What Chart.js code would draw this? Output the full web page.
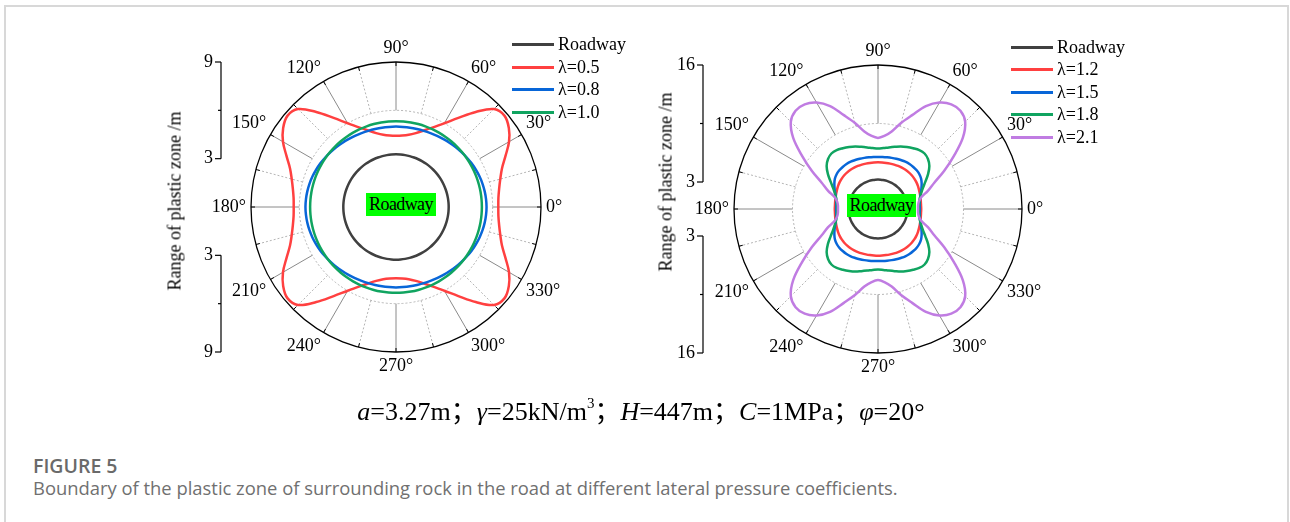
<!DOCTYPE html>
<html lang="zh-CN">
<head>
<meta charset="utf-8">
<script src="https://cdn.jsdelivr.net/npm/chart.js@4.4.1/dist/chart.umd.min.js"></script>
<style>
  html, body { margin: 0; padding: 0; background: #fff; }
  body { width: 1290px; height: 522px; position: relative; overflow: hidden; font-family: "Liberation Serif", "Times New Roman", serif; color: #000; }
  .card { position: absolute; left: 4px; top: 5px; width: 1285px; height: 600px; border: 2px solid #d8d8d8; box-sizing: border-box; }
  canvas { position: absolute; }
  .legend-row { position: absolute; height: 22px; display: flex; align-items: center; font-size: 18px; white-space: nowrap; }
  .legend-row .swatch { display: inline-block; width: 42px; height: 3px; margin-right: 4px; }
  .roadway { position: absolute; background: #00ff00; font-size: 18px; letter-spacing: -0.6px; line-height: 23px; height: 23px; text-align: center; }
  .axis-title { position: absolute; font-size: 18px; white-space: nowrap; transform: translate(-50%, -50%) rotate(-90deg); }
  .formula { position: absolute; left: 0; width: 1282px; top: 395px; text-align: center; font-family: "Liberation Serif", "Noto Sans CJK SC", serif; font-size: 26px; line-height: 34px; white-space: nowrap; }
  .formula sup { font-size: 15px; vertical-align: 12px; line-height: 0; }
  .fig-no { position: absolute; left: 33px; top: 452px; font-family: "Open Sans", "Noto Sans", sans-serif; font-weight: 600; font-size: 19.5px; color: #6a6a6a; }
  .fig-text { position: absolute; left: 33px; top: 475px; font-family: "Open Sans", "Noto Sans", sans-serif; font-size: 18.4px; color: #707070; white-space: nowrap; }
</style>
</head>
<body>
<div class="card"></div>

<canvas id="leftChart" width="420" height="380" style="left:180px; top:20px;"></canvas>
<canvas id="rightChart" width="420" height="380" style="left:660px; top:20px;"></canvas>

<div class="axis-title" style="left:175px; top:201px;">Range of plastic zone /m</div>
<div class="axis-title" style="left:666px; top:182px;">Range of plastic zone /m</div>

<div class="roadway" style="left:366px; top:193px; width:70px;">Roadway</div>
<div class="roadway" style="left:847px; top:194px; width:69px;">Roadway</div>

<div id="leftLegend"></div>
<div id="rightLegend"></div>

<div class="formula"><i>a</i>=3.27m；<i>γ</i>=25kN/m<sup>3</sup>；<i>H</i>=447m；<i>C</i>=1MPa；<i>φ</i>=20°</div>
<div class="fig-no">FIGURE 5</div>
<div class="fig-text">Boundary of the plastic zone of surrounding rock in the road at different lateral pressure coefficients.</div>

<script>
// polar angle categories, 0°..355° counter-clockwise
const angles = Array.from({ length: 72 }, (_, k) => k * 5);
const angleTicks = [0, 30, 60, 90, 120, 150, 180, 210, 240, 270, 300, 330];

// roadway radius a (m) and the λ=1.0 circle
const roadwayRadius = 3.27;
const lam10Radius = 5.33;

// plastic zone radius (m) at each angle, left plot
const lam05 = [6.35, 6.38, 6.5, 6.7, 7.0, 7.5, 8.1, 8.55, 8.8, 8.6, 7.7, 6.75, 6.0, 5.45, 5.05, 4.75, 4.55, 4.45, 4.42,
  4.45, 4.55, 4.75, 5.05, 5.45, 6.0, 6.75, 7.7, 8.6, 8.8, 8.55, 8.1, 7.5, 7.0, 6.7, 6.5, 6.38, 6.35,
  6.38, 6.5, 6.7, 7.0, 7.5, 8.1, 8.55, 8.8, 8.6, 7.7, 6.75, 6.0, 5.45, 5.05, 4.75, 4.55, 4.45, 4.42,
  4.45, 4.55, 4.75, 5.05, 5.45, 6.0, 6.75, 7.7, 8.6, 8.8, 8.55, 8.1, 7.5, 7.0, 6.7, 6.5, 6.38];
const lam08 = [5.62, 5.61, 5.59, 5.56, 5.52, 5.47, 5.42, 5.36, 5.3, 5.25, 5.19, 5.14, 5.1, 5.06, 5.03, 5.01, 5.0, 4.99, 4.99,
  4.99, 5.0, 5.01, 5.03, 5.06, 5.1, 5.14, 5.19, 5.25, 5.3, 5.36, 5.42, 5.47, 5.52, 5.56, 5.59, 5.61, 5.62,
  5.61, 5.59, 5.56, 5.52, 5.47, 5.42, 5.36, 5.3, 5.25, 5.19, 5.14, 5.1, 5.06, 5.03, 5.01, 5.0, 4.99, 4.99,
  4.99, 5.0, 5.01, 5.03, 5.06, 5.1, 5.14, 5.19, 5.25, 5.3, 5.36, 5.42, 5.47, 5.52, 5.56, 5.59, 5.61];

// right plot
const lam12 = [4.8, 4.8, 4.83, 4.88, 4.95, 5.03, 5.12, 5.2, 5.26, 5.3, 5.32, 5.32, 5.3, 5.28, 5.25, 5.22, 5.2, 5.19, 5.19,
  5.19, 5.2, 5.22, 5.25, 5.28, 5.3, 5.32, 5.32, 5.3, 5.26, 5.2, 5.12, 5.03, 4.95, 4.88, 4.83, 4.8, 4.8,
  4.8, 4.83, 4.88, 4.95, 5.03, 5.12, 5.2, 5.26, 5.3, 5.32, 5.32, 5.3, 5.28, 5.25, 5.22, 5.2, 5.19, 5.19,
  5.19, 5.2, 5.22, 5.25, 5.28, 5.3, 5.32, 5.32, 5.3, 5.26, 5.2, 5.12, 5.03, 4.95, 4.88, 4.83, 4.8];
const lam15 = [4.65, 4.66, 4.72, 4.85, 5.05, 5.32, 5.6, 5.85, 6.0, 6.08, 6.1, 6.1, 6.07, 6.0, 5.94, 5.88, 5.83, 5.8, 5.79,
  5.8, 5.83, 5.88, 5.94, 6.0, 6.07, 6.1, 6.1, 6.08, 6.0, 5.85, 5.6, 5.32, 5.05, 4.85, 4.72, 4.66, 4.65,
  4.66, 4.72, 4.85, 5.05, 5.32, 5.6, 5.85, 6.0, 6.08, 6.1, 6.1, 6.07, 6.0, 5.94, 5.88, 5.83, 5.8, 5.79,
  5.8, 5.83, 5.88, 5.94, 6.0, 6.07, 6.1, 6.1, 6.08, 6.0, 5.85, 5.6, 5.32, 5.05, 4.85, 4.72, 4.66];
const lam18 = [4.55, 4.58, 4.67, 4.82, 5.1, 5.5, 6.08, 6.8, 7.45, 7.85, 8.05, 8.0, 7.8, 7.6, 7.4, 7.15, 6.95, 6.8, 6.72,
  6.8, 6.95, 7.15, 7.4, 7.6, 7.8, 8.0, 8.05, 7.85, 7.45, 6.8, 6.08, 5.5, 5.1, 4.82, 4.67, 4.58, 4.55,
  4.58, 4.67, 4.82, 5.1, 5.5, 6.08, 6.8, 7.45, 7.85, 8.05, 8.0, 7.8, 7.6, 7.4, 7.15, 6.95, 6.8, 6.72,
  6.8, 6.95, 7.15, 7.4, 7.6, 7.8, 8.0, 8.05, 7.85, 7.45, 6.8, 6.08, 5.5, 5.1, 4.82, 4.67, 4.58];
const lam21 = [4.45, 4.47, 4.6, 4.95, 5.9, 6.9, 8.5, 10.3, 12.3, 13.7, 14.25, 14.2, 13.65, 12.6, 11.1, 9.9, 8.75, 8.15, 7.9,
  8.15, 8.75, 9.9, 11.1, 12.6, 13.65, 14.2, 14.25, 13.7, 12.3, 10.3, 8.5, 6.9, 5.9, 4.95, 4.6, 4.47, 4.45,
  4.47, 4.6, 4.95, 5.9, 6.9, 8.5, 10.3, 12.3, 13.7, 14.25, 14.2, 13.65, 12.6, 11.1, 9.9, 8.75, 8.15, 7.9,
  8.15, 8.75, 9.9, 11.1, 12.6, 13.65, 14.2, 14.25, 13.7, 12.3, 10.3, 8.5, 6.9, 5.9, 4.95, 4.6, 4.47];

// radial axis: max, labelled ticks, the dotted ring between
const leftAxis = { max: 9, labelled: [9, 3], ring: 6 };
const rightAxis = { max: 16, labelled: [16, 3], ring: 9.5 };

const colors = { roadway: '#404040', red: '#ff4040', blue: '#0866d8', green: '#10a460', purple: '#c07ce2' };

// radar indices run clockwise from startAngle, our angles run counter-clockwise
const indexForAngle = a => ((360 - a) % 360) / 5;
const toChartOrder = values => values.map((_, i) => values[(values.length - i) % values.length]);
const circle = radius => angles.map(() => radius);

const polarFrame = {
  id: 'polarFrame',
  beforeDatasetsDraw(chart, args, opts) {
    const r = chart.scales.r, ctx = chart.ctx;
    const rIn = r.getDistanceFromCenterForValue(opts.ring);
    const rOut = r.getDistanceFromCenterForValue(r.max);
    ctx.save();
    ctx.lineWidth = 1;
    for (let a = 0; a < 360; a += 15) {
      const i = indexForAngle(a);
      const p0 = r.getPointPosition(i, rIn), p1 = r.getPointPosition(i, rOut);
      const major = a % 30 === 0;
      ctx.setLineDash(major ? [] : [2, 2]);
      ctx.strokeStyle = major ? '#8a8a8a' : '#b4b4b4';
      ctx.beginPath(); ctx.moveTo(p0.x, p0.y); ctx.lineTo(p1.x, p1.y); ctx.stroke();
      const t = r.getPointPosition(i, rOut - 4);
      ctx.setLineDash([]);
      ctx.strokeStyle = '#000';
      ctx.beginPath(); ctx.moveTo(t.x, t.y); ctx.lineTo(p1.x, p1.y); ctx.stroke();
    }
    ctx.setLineDash([2, 2]);
    ctx.strokeStyle = '#b4b4b4';
    ctx.beginPath(); ctx.arc(r.xCenter, r.yCenter, rIn, 0, Math.PI * 2); ctx.stroke();
    ctx.setLineDash([]);
    ctx.strokeStyle = '#000';
    ctx.lineWidth = 1.3;
    ctx.beginPath(); ctx.arc(r.xCenter, r.yCenter, rOut, 0, Math.PI * 2); ctx.stroke();
    ctx.restore();
  },
  afterDraw(chart, args, opts) {
    const r = chart.scales.r, ctx = chart.ctx;
    const rOut = r.getDistanceFromCenterForValue(r.max);
    ctx.save();
    ctx.font = '18px "Liberation Serif"';
    ctx.fillStyle = '#000';
    angleTicks.forEach(a => {
      const p = r.getPointPosition(indexForAngle(a), rOut + 5);
      const deg = (450 - a) % 360;
      ctx.textAlign = deg === 0 || deg === 180 ? 'center' : deg < 180 ? 'left' : 'right';
      ctx.textBaseline = deg === 90 || deg === 270 ? 'middle' : (deg > 270 || deg < 90) ? 'bottom' : 'top';
      ctx.fillText(a + '°', p.x, p.y);
    });

    // vertical radius axis, split at the centre
    const x = r.xCenter - 175;
    const low = Math.min(...opts.labelled);
    const up = v => r.yCenter - r.getDistanceFromCenterForValue(v);
    const down = v => r.yCenter + r.getDistanceFromCenterForValue(v);
    ctx.strokeStyle = '#000';
    ctx.lineWidth = 1.2;
    ctx.beginPath();
    ctx.moveTo(x, up(r.max)); ctx.lineTo(x, up(low));
    ctx.moveTo(x, down(low)); ctx.lineTo(x, down(r.max));
    ctx.stroke();
    ctx.textAlign = 'right';
    ctx.textBaseline = 'middle';
    opts.labelled.forEach(v => {
      [up(v), down(v)].forEach(y => {
        ctx.beginPath(); ctx.moveTo(x - 6, y); ctx.lineTo(x, y); ctx.stroke();
        ctx.fillText(String(v), x - 8, y);
      });
    });
    [up(opts.ring), down(opts.ring)].forEach(y => {
      ctx.beginPath(); ctx.moveTo(x - 3, y); ctx.lineTo(x, y); ctx.stroke();
    });
    ctx.restore();
  }
};

function polarChart(id, axis, padding, series) {
  return new Chart(document.getElementById(id), {
    type: 'radar',
    data: {
      labels: toChartOrder(angles).map(a => a + '°'),
      datasets: series.map((s, n) => ({
        label: s.name,
        data: toChartOrder(s.values),
        borderColor: s.color,
        borderWidth: 2.5,
        fill: false,
        pointRadius: 0,
        tension: 0.35,
        order: series.length - n
      }))
    },
    options: {
      responsive: false,
      animation: false,
      events: [],
      layout: { padding },
      plugins: {
        legend: { display: false },
        tooltip: { enabled: false },
        polarFrame: axis
      },
      scales: {
        r: {
          min: 0,
          max: axis.max,
          startAngle: 90,
          grid: { display: false },
          angleLines: { display: false },
          pointLabels: { display: false },
          ticks: { display: false }
        }
      }
    },
    plugins: [polarFrame]
  });
}

const leftSeries = [
  { name: 'Roadway', values: circle(roadwayRadius), color: colors.roadway },
  { name: 'λ=0.5', values: lam05, color: colors.red },
  { name: 'λ=0.8', values: lam08, color: colors.blue },
  { name: 'λ=1.0', values: circle(lam10Radius), color: colors.green }
];
const rightSeries = [
  { name: 'Roadway', values: circle(roadwayRadius), color: colors.roadway },
  { name: 'λ=1.2', values: lam12, color: colors.red },
  { name: 'λ=1.5', values: lam15, color: colors.blue },
  { name: 'λ=1.8', values: lam18, color: colors.green },
  { name: 'λ=2.1', values: lam21, color: colors.purple }
];

polarChart('leftChart', leftAxis, { left: 71, top: 42, right: 58, bottom: 47 }, leftSeries);
polarChart('rightChart', rightAxis, { left: 74, top: 45, right: 58, bottom: 47 }, rightSeries);

function legend(id, series, left, top, step) {
  document.getElementById(id).innerHTML = series.map((s, n) =>
    `<div class="legend-row" style="left:${left}px; top:${top + n * step - 11}px;"><span class="swatch" style="background:${s.color}"></span>${s.name}</div>`
  ).join('');
}
legend('leftLegend', leftSeries, 512, 44.5, 22.5);
legend('rightLegend', rightSeries, 1011, 47, 22.6);
</script>
</body>
</html>
